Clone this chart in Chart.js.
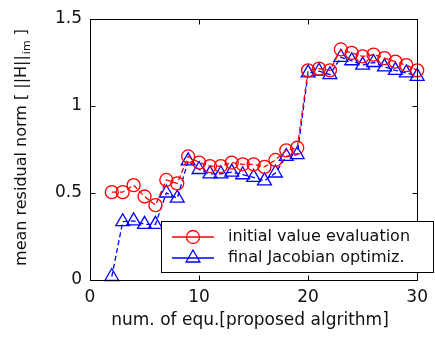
<!DOCTYPE html>
<html>
<head>
<meta charset="utf-8">
<script src="https://cdn.jsdelivr.net/npm/chart.js@4.4.1/dist/chart.umd.min.js"></script>
<style>
  html, body { margin: 0; padding: 0; background: #fff; }
  #wrap { width: 435px; height: 343px; }
</style>
</head>
<body>
<div id="wrap"><canvas id="residual-chart" width="435" height="343"></canvas></div>
<script>
// number of equations on the x axis
const equationCounts = [2, 3, 4, 5, 6, 7, 8, 9, 10, 11, 12, 13, 14, 15, 16,
    17, 18, 19, 20, 21, 22, 23, 24, 25, 26, 27, 28, 29, 30];

// mean residual norm after the initial value evaluation
const initialValueNorm = [0.505, 0.505, 0.545, 0.48, 0.43, 0.575, 0.555, 0.71, 0.675, 0.655,
    0.655, 0.675, 0.665, 0.665, 0.65, 0.69, 0.745, 0.76, 1.205, 1.215,
    1.205, 1.325, 1.305, 1.285, 1.295, 1.275, 1.255, 1.235, 1.205];

// mean residual norm after the final Jacobian optimization
const finalJacobianNorm = [0.02, 0.335, 0.34, 0.32, 0.32, 0.5, 0.47, 0.685, 0.635, 0.61,
    0.61, 0.62, 0.605, 0.59, 0.57, 0.615, 0.71, 0.72, 1.19, 1.2,
    1.18, 1.28, 1.26, 1.235, 1.25, 1.225, 1.205, 1.19, 1.17];

const xTicks = [0, 10, 20, 30];
const yTicks = [0, 0.5, 1, 1.5];
const seriesLabels = ['initial value evaluation', 'final Jacobian optimiz.'];
const xTitle = 'num. of equ.[proposed algrithm]';
const yTitleMain = 'mean residual norm [ ||H||';
const yTitleSub = 'im';
const yTitleEnd = ' ]';

const FONT = '"DejaVu Sans", "Liberation Sans", Arial, sans-serif';

function toPoints(values) {
    return equationCounts.map((n, i) => ({ x: n, y: values[i] }));
}

// box, inward ticks, axis titles and the legend drawn on top
const framePlugin = {
    id: 'frame',
    afterDraw(chart) {
        const ctx = chart.ctx;
        const a = chart.chartArea;
        const xs = chart.scales.x;
        const ys = chart.scales.y;
        const L = Math.round(a.left) + 0.5, R = Math.round(a.right) + 0.5;
        const T = Math.round(a.top) + 0.5, B = Math.round(a.bottom) + 0.5;
        ctx.save();
        ctx.strokeStyle = '#000';
        ctx.lineWidth = 1;
        ctx.strokeRect(L, T, R - L, B - T);

        const tick = 5;
        ctx.beginPath();
        xTicks.forEach(v => {
            const px = Math.round(xs.getPixelForValue(v)) + 0.5;
            ctx.moveTo(px, B); ctx.lineTo(px, B - tick);
            ctx.moveTo(px, T); ctx.lineTo(px, T + tick);
        });
        yTicks.forEach(v => {
            const py = Math.round(ys.getPixelForValue(v)) + 0.5;
            ctx.moveTo(L, py); ctx.lineTo(L + tick, py);
            ctx.moveTo(R, py); ctx.lineTo(R - tick, py);
        });
        ctx.stroke();

        // x title
        ctx.fillStyle = '#111';
        ctx.font = '17px ' + FONT;
        ctx.textAlign = 'center';
        ctx.textBaseline = 'middle';
        ctx.fillText(xTitle, 250, 321);

        // y title with subscript
        ctx.save();
        ctx.translate(20, 148);
        ctx.rotate(-Math.PI / 2);
        ctx.textAlign = 'left';
        ctx.textBaseline = 'alphabetic';
        const mainFont = '16px ' + FONT, subFont = '11px ' + FONT;
        ctx.font = mainFont;
        const w1 = ctx.measureText(yTitleMain).width;
        const w3 = ctx.measureText(yTitleEnd).width;
        ctx.font = subFont;
        const w2 = ctx.measureText(yTitleSub).width;
        const x0 = -(w1 + w2 + w3) / 2;
        const base = 6;
        ctx.font = mainFont;
        ctx.fillText(yTitleMain, x0, base);
        ctx.font = subFont;
        ctx.fillText(yTitleSub, x0 + w1 + 1, base + 4);
        ctx.font = mainFont;
        ctx.fillText(yTitleEnd, x0 + w1 + w2 + 1, base);
        ctx.restore();

        // legend
        const lx = 161.5, ly = 221.5, lw = 272, lh = 51;
        ctx.fillStyle = '#fff';
        ctx.fillRect(lx, ly, lw, lh);
        ctx.strokeStyle = '#000';
        ctx.strokeRect(lx, ly, lw, lh);
        const rows = [237, 258];
        chart.data.datasets.forEach((ds, i) => {
            const y = rows[i];
            ctx.strokeStyle = ds.borderColor;
            ctx.lineWidth = ds.borderWidth;
            ctx.setLineDash([]);
            ctx.beginPath();
            ctx.moveTo(172, y); ctx.lineTo(214, y);
            ctx.stroke();
            ctx.fillStyle = 'rgba(0,0,0,0)';
            ctx.strokeStyle = ds.pointBorderColor;
            ctx.lineWidth = ds.pointBorderWidth;
            Chart.helpers.drawPoint(ctx, {
                pointStyle: ds.pointStyle,
                radius: ds.pointRadius,
                rotation: 0,
                borderWidth: ds.pointBorderWidth
            }, 193, y);
            ctx.fillStyle = '#111';
            ctx.font = '16px ' + FONT;
            ctx.textAlign = 'left';
            ctx.textBaseline = 'middle';
            ctx.fillText(seriesLabels[i], 228, y);
        });
        ctx.restore();
    }
};

new Chart(document.getElementById('residual-chart'), {
    type: 'line',
    data: {
        datasets: [{
            label: seriesLabels[0],
            data: toPoints(initialValueNorm),
            borderColor: '#ff0000',
            backgroundColor: 'transparent',
            borderWidth: 1.3,
            borderDash: [5, 3],
            pointStyle: 'circle',
            pointRadius: 6.5,
            pointBorderWidth: 1.3,
            pointBorderColor: '#ff0000',
            pointBackgroundColor: 'transparent',
            clip: false
        }, {
            label: seriesLabels[1],
            data: toPoints(finalJacobianNorm),
            borderColor: '#0000ff',
            backgroundColor: 'transparent',
            borderWidth: 1.3,
            borderDash: [5, 3],
            pointStyle: 'triangle',
            pointRadius: 8,
            pointBorderWidth: 1.3,
            pointBorderColor: '#0000ff',
            pointBackgroundColor: 'transparent',
            clip: false
        }]
    },
    options: {
        responsive: false,
        animation: false,
        devicePixelRatio: 1,
        layout: { padding: { top: 19, right: 15, left: 0, bottom: 0 } },
        plugins: {
            legend: { display: false },
            tooltip: { enabled: false }
        },
        scales: {
            x: {
                type: 'linear',
                min: 0,
                max: 30,
                afterBuildTicks: s => { s.ticks = xTicks.map(v => ({ value: v })); },
                afterFit: s => { s.height = 63; },
                grid: { display: false, drawTicks: false },
                border: { display: false },
                ticks: { color: '#111', font: { family: FONT, size: 17 }, padding: 7, maxRotation: 0,
                    callback: v => String(v) }
            },
            y: {
                min: 0,
                max: 1.5,
                afterBuildTicks: s => { s.ticks = yTicks.map(v => ({ value: v })); },
                afterFit: s => { s.width = 90; },
                grid: { display: false, drawTicks: false },
                border: { display: false },
                ticks: { color: '#111', font: { family: FONT, size: 17 }, padding: 8,
                    callback: v => String(v) }
            }
        }
    },
    plugins: [framePlugin]
});
</script>
</body>
</html>
